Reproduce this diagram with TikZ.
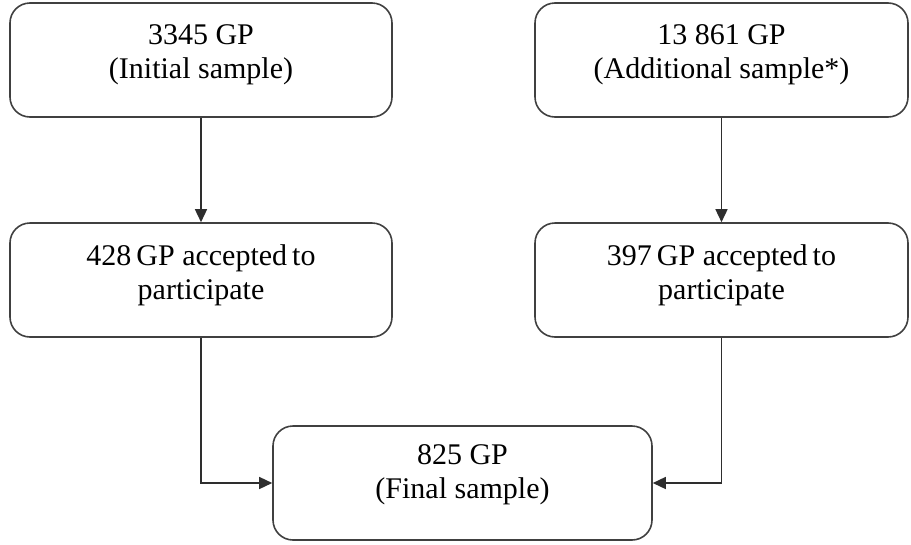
\documentclass[tikz,border=0pt]{standalone}
\usepackage{fontspec}
\setmainfont{Liberation Serif}
\usetikzlibrary{arrows.meta,calc}
\begin{document}
\begin{tikzpicture}[x=1pt,y=-1pt,
  box/.style={draw=black!75,line width=1.6pt,rounded corners=20pt,minimum height=114pt,inner sep=0pt},
  txt/.style={anchor=north,inner sep=0pt,align=center,font=\fontsize{30}{34}\selectfont},
  conn/.style={draw=black!82,line width=1.5pt,-{Triangle[length=13pt,width=12pt]}}]
\useasboundingbox (0,0) rectangle (911,544);
\node[box,minimum width=382pt] (b1) at (201,60) {};
\node[box,minimum width=373pt] (b2) at (721.5,60) {};
\node[box,minimum width=382pt] (b3) at (201,280) {};
\node[box,minimum width=373pt] (b4) at (721.5,280) {};
\node[box,minimum width=379pt] (b5) at (462.5,483) {};
\node[txt] (t1) at ($(b1.north)+(0,22)$) {3345 GP\\(Initial sample)};
\node[txt] (t2) at ($(b2.north)+(0,22)$) {13 861 GP\\(Additional sample*)};
\node[txt] (t3) at ($(b3.north)+(0,22)$) {428\,GP accepted\,to\\participate};
\node[txt] (t4) at ($(b4.north)+(0,22)$) {397\,GP accepted\,to\\participate};
\node[txt] (t5) at ($(b5.north)+(0,19)$) {825 GP\\(Final sample)};
\draw[conn] (b1.south) -- (b3.north);
\draw[conn] (b2.south) -- (b4.north);
\draw[conn] (b3.south) |- (b5.west);
\draw[conn] (b4.south) |- (b5.east);
\end{tikzpicture}
\end{document}
